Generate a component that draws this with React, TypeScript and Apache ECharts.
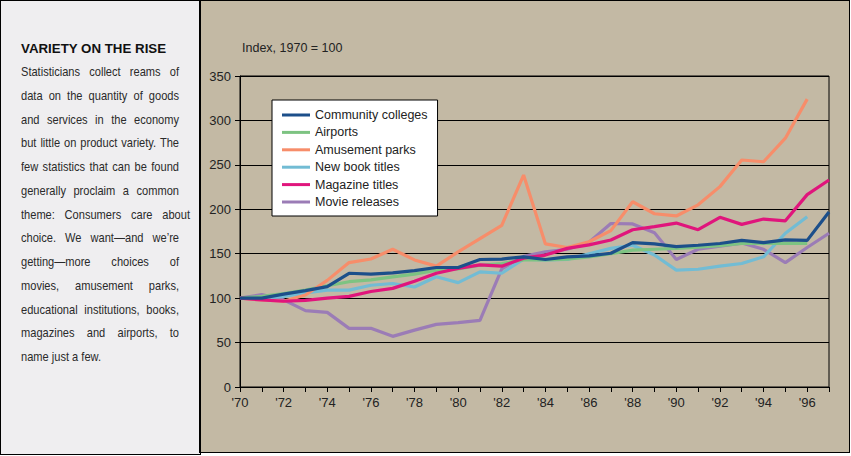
import React, { useEffect, useRef } from "react";
import * as echarts from "echarts";

const years = [
  1970, 1971, 1972, 1973, 1974, 1975, 1976, 1977, 1978, 1979,
  1980, 1981, 1982, 1983, 1984, 1985, 1986, 1987, 1988, 1989,
  1990, 1991, 1992, 1993, 1994, 1995, 1996, 1997,
];

const communityColleges = [
  100, 100, 104.5, 108.5, 113, 128, 127, 128.5, 131, 134.5,
  134.5, 143.5, 144, 146.5, 143.5, 146.5, 147.5, 150.5, 162.5, 161,
  158, 159.5, 161.5, 165, 162.5, 165.5, 165, 197,
];
const airports = [
  100, 102, 105, 109, 114, 118.5, 120.5, 124, 127, 131.5,
  133, 137, 139, 143, 143, 144, 146.5, 150, 154, 155,
  156, 157.5, 159, 161.5, 161.5, 161.5, 161.5, null,
];
const amusementParks = [
  100, 98, 96.5, 103.5, 120, 140, 144, 155, 143, 136,
  152, 167, 182, 238.5, 161, 157, 163.5, 176, 208.5, 195,
  192.5, 205, 225.5, 255.5, 253.5, 280, 324, null,
];
const newBookTitles = [
  100, 100, 102, 106, 109, 109, 114.5, 116.5, 112.5, 124,
  117.5, 129.5, 128, 144, 143, 143.5, 150, 156, 159.5, 148.5,
  131.5, 132.5, 136, 139, 146.5, 173, 191.5, null,
];
const magazineTitles = [
  100, 98, 96.5, 97.5, 100, 102, 107.5, 111, 119, 128,
  133.5, 137.5, 136, 145, 148.5, 156, 160, 165.5, 177, 180.5,
  184.5, 177, 191, 183, 189, 187, 216.5, 233,
];
const movieReleases = [
  100, 104, 98, 86, 84, 66, 66, 57, 64, 70.5,
  72.5, 75, 133, 147, 152, 155, 163, 184, 183.5, 173.5,
  143.5, 155, 158.5, 162, 155, 140, 157, 173,
];

const seriesNames = [
  "Community colleges",
  "Airports",
  "Amusement parks",
  "New book titles",
  "Magazine titles",
  "Movie releases",
];

const xTickLabels: Record<number, string> = {
  1970: "'70", 1972: "'72", 1974: "'74", 1976: "'76", 1978: "'78",
  1980: "'80", 1982: "'82", 1984: "'84", 1986: "'86", 1988: "'88",
  1990: "'90", 1992: "'92", 1994: "'94", 1996: "'96",
};

const bodyLines = [
  "Statisticians collect reams of",
  "data on the quantity of goods",
  "and services in the economy",
  "but little on product variety. The",
  "few statistics that can be found",
  "generally proclaim a common",
  "theme: Consumers care about",
  "choice. We want\u2014and we\u2019re",
  "getting\u2014more choices of",
  "movies, amusement parks,",
  "educational institutions, books,",
  "magazines and airports, to",
  "name just a few.",
];

const FONT = "'Liberation Sans', Arial, sans-serif";
const SCALE = 0.82;

export default function App() {
  const ref = useRef<HTMLDivElement>(null);

  useEffect(() => {
    if (!ref.current) return;
    const chart = echarts.init(ref.current, null, { renderer: "svg" });
    const toPairs = (arr: (number | null)[]) =>
      years.map((y, i) => [y, arr[i]]);
    const defs = [
      { name: "Movie releases", data: movieReleases, color: "#9b7cb6" },
      { name: "New book titles", data: newBookTitles, color: "#72bcd4" },
      { name: "Airports", data: airports, color: "#7dc382" },
      { name: "Amusement parks", data: amusementParks, color: "#f78d6a" },
      { name: "Magazine titles", data: magazineTitles, color: "#e0157c" },
      { name: "Community colleges", data: communityColleges, color: "#1c4f8a" },
    ];
    chart.setOption({
      animation: false,
      backgroundColor: "transparent",
      textStyle: { fontFamily: FONT },
      grid: {
        left: 39,
        top: 74,
        right: 19,
        bottom: 64,
        show: true,
        borderColor: "#000",
        borderWidth: 1,
        backgroundColor: "transparent",
      },
      legend: {
        show: true,
        data: seriesNames,
        orient: "vertical",
        left: 71,
        top: 98,
        backgroundColor: "#ffffff",
        borderColor: "#000",
        borderWidth: 1,
        borderRadius: 0,
        padding: [8, 10, 7, 10],
        itemWidth: 28,
        itemHeight: 3,
        itemGap: 3.4,
        icon: "rect",
        textStyle: {
          fontSize: 12.5,
          color: "#222",
          fontFamily: FONT,
          lineHeight: 14,
        },
      },
      graphic: [
        {
          type: "text",
          left: 41,
          top: 39,
          style: {
            text: "Index, 1970 = 100",
            fontSize: 12.5,
            fill: "#222",
            fontFamily: FONT,
          },
        },
      ],
      xAxis: {
        type: "value",
        min: 1970,
        max: 1997,
        interval: 1,
        axisLine: { show: true, lineStyle: { color: "#000", width: 1 } },
        axisTick: { show: true, length: 5, lineStyle: { color: "#000" } },
        splitLine: { show: false },
        axisLabel: {
          color: "#222",
          fontSize: 13,
          margin: 9,
          fontFamily: FONT,
          showMinLabel: true,
          showMaxLabel: true,
          formatter: (v: number) => xTickLabels[v] || "",
        },
      },
      yAxis: {
        type: "value",
        min: 0,
        max: 350,
        interval: 50,
        axisLine: { show: true, lineStyle: { color: "#000", width: 1 } },
        axisTick: { show: true, length: 5, lineStyle: { color: "#000" } },
        splitLine: { show: true, lineStyle: { color: "#000", width: 1 } },
        axisLabel: {
          color: "#222",
          fontSize: 13,
          margin: 9,
          fontFamily: FONT,
        },
      },
      series: defs.map((d) => ({
        name: d.name,
        type: "line",
        data: toPairs(d.data),
        showSymbol: false,
        symbol: "none",
        color: d.color,
        lineStyle: { color: d.color, width: 3.2 },
        connectNulls: false,
      })),
    });
    return () => chart.dispose();
  }, []);

  return (
    <div
      style={{
        position: "fixed",
        left: 0,
        top: 0,
        width: 851,
        height: 456,
        background: "#ffffff",
        overflow: "hidden",
      }}
    >
      <div
        style={{
          position: "absolute",
          left: 0,
          top: 0,
          width: 201,
          height: 455,
          boxSizing: "border-box",
          border: "1px solid #000",
          background: "#efeef0",
        }}
      >
        <div
          style={{
            position: "absolute",
            left: 20,
            top: 40,
            fontFamily: FONT,
            fontWeight: "bold",
            fontSize: 13.3,
            lineHeight: "16px",
            color: "#111",
            whiteSpace: "nowrap",
          }}
        >
          VARIETY ON THE RISE
        </div>
        <div
          style={{
            position: "absolute",
            left: 20,
            top: 59,
            fontFamily: FONT,
            fontSize: 13.5,
            lineHeight: "23.75px",
            color: "#2a2a2a",
          }}
        >
          {bodyLines.map((line, i) => {
            const w = i === 6 ? 169 : 158;
            const last = i === bodyLines.length - 1;
            return (
              <div
                key={i}
                style={{
                  whiteSpace: "nowrap",
                  width: w / SCALE,
                  transform: `scaleX(${SCALE})`,
                  transformOrigin: "0 0",
                  textAlign: last ? "left" : "justify",
                  textAlignLast: last ? "left" : "justify",
                }}
              >
                {line}
              </div>
            );
          })}
        </div>
      </div>
      <div
        style={{
          position: "absolute",
          left: 199,
          top: 0,
          width: 651,
          height: 453,
          boxSizing: "border-box",
          border: "1px solid #000",
          borderLeft: "2px solid #000",
          background: "#c3b9a4",
        }}
      >
        <div
          ref={ref}
          style={{ position: "absolute", left: 0, top: 1, width: 647, height: 449 }}
        />
      </div>
    </div>
  );
}
